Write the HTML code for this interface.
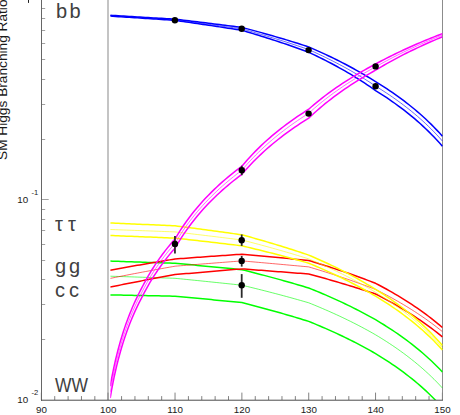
<!DOCTYPE html>
<html><head><meta charset="utf-8"><title>SM Higgs Branching Ratio</title>
<style>
html,body{margin:0;padding:0;background:#fff;}
body{width:460px;height:415px;overflow:hidden;position:relative;font-family:"Liberation Sans",sans-serif;}
svg{position:absolute;left:0;top:0;display:block;}
text{font-family:"Liberation Sans",sans-serif;stroke:none;}
</style></head><body>
<svg width="460" height="415" viewBox="0 0 460 415">
<rect width="460" height="415" fill="#fff"/>
<defs><clipPath id="cp"><rect x="110.3" y="0" width="332.6" height="400"/></clipPath></defs>
<!-- gray vertical lines -->
<rect x="107" y="0" width="2" height="400" fill="#c4c4c4"/>
<rect x="442" y="0" width="1" height="400" fill="#8c8c8c"/>
<g clip-path="url(#cp)" stroke-linejoin="round">
<path d="M110.21 276.20 L112.91 276.29 L115.61 276.37 L118.31 276.46 L121.01 276.55 L123.71 276.63 L126.41 276.72 L129.12 276.81 L131.82 276.89 L134.52 276.98 L137.22 277.07 L139.92 277.16 L142.62 277.24 L145.32 277.33 L148.03 277.42 L150.73 277.51 L153.43 277.59 L156.13 277.68 L158.83 277.77 L161.53 277.86 L164.23 277.95 L166.94 278.03 L169.64 278.12 L172.34 278.21 L175.04 278.30 L177.83 278.58 L180.61 278.85 L183.40 279.13 L186.18 279.41 L188.96 279.69 L191.75 279.97 L194.54 280.26 L197.32 280.54 L200.11 280.82 L202.89 281.11 L205.67 281.39 L208.46 281.68 L211.25 281.97 L214.03 282.26 L216.81 282.55 L219.60 282.84 L222.38 283.13 L225.17 283.42 L227.96 283.72 L230.74 284.01 L233.53 284.31 L236.31 284.60 L239.09 284.90 L241.88 285.20 L244.67 285.87 L247.45 286.54 L250.24 287.22 L253.02 287.90 L255.80 288.58 L258.59 289.28 L261.38 289.98 L264.16 290.68 L266.94 291.39 L269.73 292.11 L272.51 292.83 L275.30 293.56 L278.09 294.29 L280.87 295.03 L283.66 295.78 L286.44 296.53 L289.22 297.29 L292.01 298.06 L294.80 298.83 L297.58 299.61 L300.37 300.40 L303.15 301.19 L305.94 301.99 L308.72 302.80 L311.50 303.92 L314.29 305.06 L317.07 306.21 L319.86 307.38 L322.65 308.57 L325.43 309.77 L328.21 310.98 L331.00 312.22 L333.79 313.47 L336.57 314.74 L339.36 316.03 L342.14 317.34 L344.92 318.67 L347.71 320.02 L350.50 321.39 L353.28 322.78 L356.07 324.19 L358.85 325.63 L361.63 327.09 L364.42 328.58 L367.20 330.10 L369.99 331.64 L372.78 333.20 L375.56 334.80 L378.34 336.47 L381.13 338.18 L383.92 339.92 L386.70 341.70 L389.49 343.52 L392.27 345.37 L395.05 347.26 L397.84 349.20 L400.62 351.18 L403.41 353.20 L406.20 355.27 L408.98 357.40 L411.76 359.58 L414.55 361.81 L417.33 364.10 L420.12 366.45 L422.91 368.87 L425.69 371.36 L428.47 373.92 L431.26 376.56 L434.05 379.28 L436.83 382.09 L439.62 385.00 L442.40 388.00" stroke="#00ff00" stroke-width="0.6" fill="none"/>
<path d="M110.21 261.10 L112.91 261.19 L115.61 261.28 L118.31 261.37 L121.01 261.46 L123.71 261.55 L126.41 261.64 L129.12 261.74 L131.82 261.83 L134.52 261.92 L137.22 262.01 L139.92 262.10 L142.62 262.19 L145.32 262.28 L148.03 262.38 L150.73 262.47 L153.43 262.56 L156.13 262.65 L158.83 262.74 L161.53 262.84 L164.23 262.93 L166.94 263.02 L169.64 263.11 L172.34 263.21 L175.04 263.30 L177.83 263.56 L180.61 263.82 L183.40 264.07 L186.18 264.33 L188.96 264.60 L191.75 264.86 L194.54 265.12 L197.32 265.38 L200.11 265.65 L202.89 265.91 L205.67 266.18 L208.46 266.44 L211.25 266.71 L214.03 266.98 L216.81 267.24 L219.60 267.51 L222.38 267.78 L225.17 268.06 L227.96 268.33 L230.74 268.60 L233.53 268.87 L236.31 269.15 L239.09 269.42 L241.88 269.70 L244.67 270.39 L247.45 271.09 L250.24 271.79 L253.02 272.50 L255.80 273.21 L258.59 273.93 L261.38 274.65 L264.16 275.38 L266.94 276.12 L269.73 276.86 L272.51 277.61 L275.30 278.37 L278.09 279.13 L280.87 279.90 L283.66 280.68 L286.44 281.46 L289.22 282.25 L292.01 283.05 L294.80 283.86 L297.58 284.67 L300.37 285.49 L303.15 286.32 L305.94 287.16 L308.72 288.00 L311.50 289.11 L314.29 290.24 L317.07 291.39 L319.86 292.55 L322.65 293.72 L325.43 294.91 L328.21 296.12 L331.00 297.34 L333.79 298.58 L336.57 299.84 L339.36 301.12 L342.14 302.42 L344.92 303.73 L347.71 305.07 L350.50 306.43 L353.28 307.80 L356.07 309.21 L358.85 310.63 L361.63 312.08 L364.42 313.55 L367.20 315.05 L369.99 316.57 L372.78 318.12 L375.56 319.70 L378.34 321.35 L381.13 323.04 L383.92 324.76 L386.70 326.51 L389.49 328.30 L392.27 330.13 L395.05 332.00 L397.84 333.90 L400.62 335.85 L403.41 337.85 L406.20 339.89 L408.98 341.98 L411.76 344.12 L414.55 346.32 L417.33 348.57 L420.12 350.88 L422.91 353.26 L425.69 355.70 L428.47 358.22 L431.26 360.80 L434.05 363.47 L436.83 366.22 L439.62 369.06 L442.40 372.00" stroke="#00ff00" stroke-width="1.5" fill="none"/>
<path d="M110.21 294.90 L112.91 294.95 L115.61 295.01 L118.31 295.06 L121.01 295.12 L123.71 295.17 L126.41 295.22 L129.12 295.28 L131.82 295.33 L134.52 295.39 L137.22 295.44 L139.92 295.49 L142.62 295.55 L145.32 295.60 L148.03 295.66 L150.73 295.71 L153.43 295.76 L156.13 295.82 L158.83 295.87 L161.53 295.93 L164.23 295.98 L166.94 296.04 L169.64 296.09 L172.34 296.15 L175.04 296.20 L177.83 296.46 L180.61 296.72 L183.40 296.97 L186.18 297.23 L188.96 297.50 L191.75 297.76 L194.54 298.02 L197.32 298.28 L200.11 298.55 L202.89 298.81 L205.67 299.08 L208.46 299.34 L211.25 299.61 L214.03 299.88 L216.81 300.14 L219.60 300.41 L222.38 300.68 L225.17 300.96 L227.96 301.23 L230.74 301.50 L233.53 301.77 L236.31 302.05 L239.09 302.32 L241.88 302.60 L244.67 303.31 L247.45 304.02 L250.24 304.74 L253.02 305.46 L255.80 306.20 L258.59 306.93 L261.38 307.68 L264.16 308.43 L266.94 309.18 L269.73 309.95 L272.51 310.72 L275.30 311.49 L278.09 312.28 L280.87 313.07 L283.66 313.87 L286.44 314.67 L289.22 315.49 L292.01 316.31 L294.80 317.13 L297.58 317.97 L300.37 318.82 L303.15 319.67 L305.94 320.53 L308.72 321.40 L311.50 322.53 L314.29 323.67 L317.07 324.83 L319.86 326.01 L322.65 327.20 L325.43 328.40 L328.21 329.63 L331.00 330.87 L333.79 332.13 L336.57 333.41 L339.36 334.70 L342.14 336.02 L344.92 337.36 L347.71 338.71 L350.50 340.09 L353.28 341.49 L356.07 342.92 L358.85 344.37 L361.63 345.84 L364.42 347.34 L367.20 348.86 L369.99 350.41 L372.78 351.99 L375.56 353.60 L378.34 355.29 L381.13 357.02 L383.92 358.78 L386.70 360.58 L389.49 362.42 L392.27 364.29 L395.05 366.21 L397.84 368.17 L400.62 370.17 L403.41 372.22 L406.20 374.33 L408.98 376.48 L411.76 378.69 L414.55 380.95 L417.33 383.28 L420.12 385.67 L422.91 388.13 L425.69 390.66 L428.47 393.26 L431.26 395.95 L434.05 398.72 L436.83 401.58 L439.62 404.54 L442.40 407.60" stroke="#00ff00" stroke-width="1.5" fill="none"/>
<path d="M110.21 278.40 L112.91 277.86 L115.61 277.32 L118.31 276.78 L121.01 276.24 L123.71 275.71 L126.41 275.19 L129.12 274.66 L131.82 274.14 L134.52 273.62 L137.22 273.11 L139.92 272.60 L142.62 272.09 L145.32 271.58 L148.03 271.08 L150.73 270.58 L153.43 270.08 L156.13 269.59 L158.83 269.09 L161.53 268.60 L164.23 268.12 L166.94 267.63 L169.64 267.15 L172.34 266.68 L175.04 266.20 L177.83 265.97 L180.61 265.75 L183.40 265.52 L186.18 265.29 L188.96 265.07 L191.75 264.84 L194.54 264.62 L197.32 264.40 L200.11 264.17 L202.89 263.95 L205.67 263.73 L208.46 263.51 L211.25 263.29 L214.03 263.07 L216.81 262.85 L219.60 262.63 L222.38 262.41 L225.17 262.20 L227.96 261.98 L230.74 261.76 L233.53 261.55 L236.31 261.33 L239.09 261.11 L241.88 260.90 L244.67 261.14 L247.45 261.38 L250.24 261.63 L253.02 261.87 L255.80 262.12 L258.59 262.36 L261.38 262.61 L264.16 262.85 L266.94 263.10 L269.73 263.35 L272.51 263.60 L275.30 263.85 L278.09 264.10 L280.87 264.35 L283.66 264.60 L286.44 264.85 L289.22 265.11 L292.01 265.36 L294.80 265.62 L297.58 265.87 L300.37 266.13 L303.15 266.38 L305.94 266.64 L308.72 266.90 L311.50 267.73 L314.29 268.57 L317.07 269.41 L319.86 270.27 L322.65 271.13 L325.43 272.00 L328.21 272.88 L331.00 273.77 L333.79 274.67 L336.57 275.58 L339.36 276.50 L342.14 277.43 L344.92 278.36 L347.71 279.31 L350.50 280.27 L353.28 281.24 L356.07 282.22 L358.85 283.21 L361.63 284.21 L364.42 285.22 L367.20 286.25 L369.99 287.29 L372.78 288.34 L375.56 289.40 L378.34 290.80 L381.13 292.23 L383.92 293.68 L386.70 295.16 L389.49 296.66 L392.27 298.19 L395.05 299.75 L397.84 301.33 L400.62 302.94 L403.41 304.59 L406.20 306.26 L408.98 307.97 L411.76 309.71 L414.55 311.49 L417.33 313.30 L420.12 315.16 L422.91 317.05 L425.69 318.98 L428.47 320.96 L431.26 322.99 L434.05 325.06 L436.83 327.19 L439.62 329.37 L442.40 331.60" stroke="#ff0000" stroke-width="0.6" fill="none"/>
<path d="M110.21 270.20 L112.91 269.70 L115.61 269.21 L118.31 268.72 L121.01 268.23 L123.71 267.74 L126.41 267.26 L129.12 266.78 L131.82 266.30 L134.52 265.83 L137.22 265.36 L139.92 264.89 L142.62 264.42 L145.32 263.96 L148.03 263.49 L150.73 263.03 L153.43 262.58 L156.13 262.12 L158.83 261.67 L161.53 261.22 L164.23 260.77 L166.94 260.32 L169.64 259.88 L172.34 259.44 L175.04 259.00 L177.83 258.79 L180.61 258.59 L183.40 258.39 L186.18 258.18 L188.96 257.98 L191.75 257.77 L194.54 257.57 L197.32 257.37 L200.11 257.17 L202.89 256.97 L205.67 256.77 L208.46 256.57 L211.25 256.37 L214.03 256.17 L216.81 255.97 L219.60 255.77 L222.38 255.57 L225.17 255.38 L227.96 255.18 L230.74 254.98 L233.53 254.79 L236.31 254.59 L239.09 254.39 L241.88 254.20 L244.67 254.45 L247.45 254.71 L250.24 254.96 L253.02 255.22 L255.80 255.48 L258.59 255.73 L261.38 255.99 L264.16 256.25 L266.94 256.51 L269.73 256.77 L272.51 257.03 L275.30 257.29 L278.09 257.56 L280.87 257.82 L283.66 258.08 L286.44 258.35 L289.22 258.61 L292.01 258.88 L294.80 259.15 L297.58 259.42 L300.37 259.69 L303.15 259.96 L305.94 260.23 L308.72 260.50 L311.50 261.34 L314.29 262.19 L317.07 263.04 L319.86 263.91 L322.65 264.78 L325.43 265.67 L328.21 266.56 L331.00 267.46 L333.79 268.37 L336.57 269.29 L339.36 270.22 L342.14 271.16 L344.92 272.11 L347.71 273.07 L350.50 274.04 L353.28 275.02 L356.07 276.01 L358.85 277.02 L361.63 278.03 L364.42 279.06 L367.20 280.10 L369.99 281.15 L372.78 282.22 L375.56 283.30 L378.34 284.76 L381.13 286.24 L383.92 287.74 L386.70 289.28 L389.49 290.84 L392.27 292.43 L395.05 294.05 L397.84 295.70 L400.62 297.38 L403.41 299.09 L406.20 300.84 L408.98 302.63 L411.76 304.45 L414.55 306.31 L417.33 308.21 L420.12 310.15 L422.91 312.14 L425.69 314.18 L428.47 316.26 L431.26 318.40 L434.05 320.58 L436.83 322.83 L439.62 325.13 L442.40 327.50" stroke="#ff0000" stroke-width="1.5" fill="none"/>
<path d="M110.21 287.10 L112.91 286.54 L115.61 285.99 L118.31 285.44 L121.01 284.89 L123.71 284.34 L126.41 283.80 L129.12 283.27 L131.82 282.73 L134.52 282.20 L137.22 281.67 L139.92 281.15 L142.62 280.63 L145.32 280.11 L148.03 279.59 L150.73 279.08 L153.43 278.57 L156.13 278.06 L158.83 277.56 L161.53 277.06 L164.23 276.56 L166.94 276.07 L169.64 275.58 L172.34 275.09 L175.04 274.60 L177.83 274.35 L180.61 274.11 L183.40 273.87 L186.18 273.62 L188.96 273.38 L191.75 273.14 L194.54 272.90 L197.32 272.66 L200.11 272.42 L202.89 272.18 L205.67 271.94 L208.46 271.70 L211.25 271.47 L214.03 271.23 L216.81 270.99 L219.60 270.76 L222.38 270.52 L225.17 270.29 L227.96 270.06 L230.74 269.82 L233.53 269.59 L236.31 269.36 L239.09 269.13 L241.88 268.90 L244.67 269.11 L247.45 269.31 L250.24 269.52 L253.02 269.73 L255.80 269.94 L258.59 270.15 L261.38 270.36 L264.16 270.57 L266.94 270.78 L269.73 270.99 L272.51 271.20 L275.30 271.41 L278.09 271.63 L280.87 271.84 L283.66 272.05 L286.44 272.27 L289.22 272.48 L292.01 272.70 L294.80 272.91 L297.58 273.13 L300.37 273.35 L303.15 273.56 L305.94 273.78 L308.72 274.00 L311.50 274.75 L314.29 275.50 L317.07 276.26 L319.86 277.03 L322.65 277.80 L325.43 278.59 L328.21 279.37 L331.00 280.17 L333.79 280.97 L336.57 281.78 L339.36 282.60 L342.14 283.43 L344.92 284.26 L347.71 285.10 L350.50 285.95 L353.28 286.81 L356.07 287.68 L358.85 288.55 L361.63 289.44 L364.42 290.33 L367.20 291.23 L369.99 292.15 L372.78 293.07 L375.56 294.00 L378.34 295.42 L381.13 296.87 L383.92 298.34 L386.70 299.84 L389.49 301.36 L392.27 302.91 L395.05 304.49 L397.84 306.09 L400.62 307.73 L403.41 309.40 L406.20 311.10 L408.98 312.83 L411.76 314.60 L414.55 316.41 L417.33 318.26 L420.12 320.14 L422.91 322.07 L425.69 324.04 L428.47 326.05 L431.26 328.12 L434.05 330.23 L436.83 332.40 L439.62 334.62 L442.40 336.90" stroke="#ff0000" stroke-width="1.5" fill="none"/>
<path d="M110.21 229.50 L112.91 229.60 L115.61 229.70 L118.31 229.80 L121.01 229.90 L123.71 229.99 L126.41 230.09 L129.12 230.19 L131.82 230.29 L134.52 230.39 L137.22 230.49 L139.92 230.59 L142.62 230.69 L145.32 230.79 L148.03 230.89 L150.73 230.99 L153.43 231.09 L156.13 231.19 L158.83 231.29 L161.53 231.39 L164.23 231.50 L166.94 231.60 L169.64 231.70 L172.34 231.80 L175.04 231.90 L177.83 232.22 L180.61 232.55 L183.40 232.87 L186.18 233.20 L188.96 233.53 L191.75 233.86 L194.54 234.19 L197.32 234.52 L200.11 234.85 L202.89 235.18 L205.67 235.52 L208.46 235.86 L211.25 236.19 L214.03 236.53 L216.81 236.87 L219.60 237.22 L222.38 237.56 L225.17 237.90 L227.96 238.25 L230.74 238.60 L233.53 238.95 L236.31 239.30 L239.09 239.65 L241.88 240.00 L244.67 240.71 L247.45 241.43 L250.24 242.15 L253.02 242.88 L255.80 243.61 L258.59 244.35 L261.38 245.10 L264.16 245.86 L266.94 246.62 L269.73 247.38 L272.51 248.16 L275.30 248.94 L278.09 249.73 L280.87 250.52 L283.66 251.32 L286.44 252.13 L289.22 252.95 L292.01 253.78 L294.80 254.61 L297.58 255.45 L300.37 256.30 L303.15 257.16 L305.94 258.02 L308.72 258.90 L311.50 260.06 L314.29 261.24 L317.07 262.44 L319.86 263.65 L322.65 264.88 L325.43 266.13 L328.21 267.39 L331.00 268.68 L333.79 269.98 L336.57 271.30 L339.36 272.64 L342.14 274.01 L344.92 275.39 L347.71 276.80 L350.50 278.23 L353.28 279.69 L356.07 281.17 L358.85 282.67 L361.63 284.21 L364.42 285.77 L367.20 287.35 L369.99 288.97 L372.78 290.62 L375.56 292.30 L378.34 294.02 L381.13 295.78 L383.92 297.58 L386.70 299.41 L389.49 301.29 L392.27 303.20 L395.05 305.16 L397.84 307.16 L400.62 309.21 L403.41 311.31 L406.20 313.46 L408.98 315.67 L411.76 317.93 L414.55 320.25 L417.33 322.64 L420.12 325.09 L422.91 327.62 L425.69 330.22 L428.47 332.90 L431.26 335.66 L434.05 338.52 L436.83 341.47 L439.62 344.53 L442.40 347.70" stroke="#ffff00" stroke-width="0.6" fill="none"/>
<path d="M110.21 223.00 L112.91 223.11 L115.61 223.23 L118.31 223.35 L121.01 223.46 L123.71 223.58 L126.41 223.69 L129.12 223.81 L131.82 223.92 L134.52 224.04 L137.22 224.16 L139.92 224.27 L142.62 224.39 L145.32 224.51 L148.03 224.62 L150.73 224.74 L153.43 224.86 L156.13 224.97 L158.83 225.09 L161.53 225.21 L164.23 225.33 L166.94 225.45 L169.64 225.56 L172.34 225.68 L175.04 225.80 L177.83 226.16 L180.61 226.52 L183.40 226.88 L186.18 227.24 L188.96 227.60 L191.75 227.96 L194.54 228.33 L197.32 228.70 L200.11 229.07 L202.89 229.44 L205.67 229.81 L208.46 230.18 L211.25 230.56 L214.03 230.94 L216.81 231.32 L219.60 231.70 L222.38 232.08 L225.17 232.46 L227.96 232.85 L230.74 233.23 L233.53 233.62 L236.31 234.01 L239.09 234.41 L241.88 234.80 L244.67 235.56 L247.45 236.32 L250.24 237.09 L253.02 237.87 L255.80 238.66 L258.59 239.45 L261.38 240.25 L264.16 241.06 L266.94 241.87 L269.73 242.69 L272.51 243.52 L275.30 244.36 L278.09 245.21 L280.87 246.06 L283.66 246.92 L286.44 247.79 L289.22 248.68 L292.01 249.56 L294.80 250.46 L297.58 251.37 L300.37 252.29 L303.15 253.22 L305.94 254.15 L308.72 255.10 L311.50 256.29 L314.29 257.50 L317.07 258.72 L319.86 259.96 L322.65 261.22 L325.43 262.49 L328.21 263.79 L331.00 265.10 L333.79 266.44 L336.57 267.79 L339.36 269.17 L342.14 270.57 L344.92 271.99 L347.71 273.44 L350.50 274.91 L353.28 276.41 L356.07 277.93 L358.85 279.48 L361.63 281.06 L364.42 282.66 L367.20 284.30 L369.99 285.97 L372.78 287.67 L375.56 289.40 L378.34 291.14 L381.13 292.92 L383.92 294.73 L386.70 296.58 L389.49 298.47 L392.27 300.41 L395.05 302.38 L397.84 304.41 L400.62 306.48 L403.41 308.60 L406.20 310.78 L408.98 313.01 L411.76 315.30 L414.55 317.65 L417.33 320.07 L420.12 322.55 L422.91 325.11 L425.69 327.75 L428.47 330.47 L431.26 333.27 L434.05 336.17 L436.83 339.17 L439.62 342.28 L442.40 345.50" stroke="#ffff00" stroke-width="1.5" fill="none"/>
<path d="M110.21 235.50 L112.91 235.61 L115.61 235.71 L118.31 235.82 L121.01 235.93 L123.71 236.04 L126.41 236.14 L129.12 236.25 L131.82 236.36 L134.52 236.47 L137.22 236.57 L139.92 236.68 L142.62 236.79 L145.32 236.90 L148.03 237.01 L150.73 237.12 L153.43 237.22 L156.13 237.33 L158.83 237.44 L161.53 237.55 L164.23 237.66 L166.94 237.77 L169.64 237.88 L172.34 237.99 L175.04 238.10 L177.83 238.41 L180.61 238.72 L183.40 239.03 L186.18 239.34 L188.96 239.65 L191.75 239.96 L194.54 240.28 L197.32 240.59 L200.11 240.91 L202.89 241.23 L205.67 241.54 L208.46 241.86 L211.25 242.19 L214.03 242.51 L216.81 242.83 L219.60 243.16 L222.38 243.48 L225.17 243.81 L227.96 244.14 L230.74 244.47 L233.53 244.80 L236.31 245.13 L239.09 245.47 L241.88 245.80 L244.67 246.46 L247.45 247.12 L250.24 247.79 L253.02 248.47 L255.80 249.15 L258.59 249.84 L261.38 250.53 L264.16 251.22 L266.94 251.92 L269.73 252.63 L272.51 253.35 L275.30 254.07 L278.09 254.79 L280.87 255.52 L283.66 256.26 L286.44 257.01 L289.22 257.76 L292.01 258.51 L294.80 259.28 L297.58 260.05 L300.37 260.83 L303.15 261.61 L305.94 262.40 L308.72 263.20 L311.50 264.35 L314.29 265.52 L317.07 266.70 L319.86 267.90 L322.65 269.12 L325.43 270.35 L328.21 271.60 L331.00 272.87 L333.79 274.16 L336.57 275.47 L339.36 276.80 L342.14 278.15 L344.92 279.52 L347.71 280.91 L350.50 282.32 L353.28 283.76 L356.07 285.22 L358.85 286.71 L361.63 288.22 L364.42 289.76 L367.20 291.32 L369.99 292.92 L372.78 294.54 L375.56 296.20 L378.34 297.89 L381.13 299.61 L383.92 301.36 L386.70 303.15 L389.49 304.98 L392.27 306.84 L395.05 308.75 L397.84 310.70 L400.62 312.70 L403.41 314.74 L406.20 316.83 L408.98 318.97 L411.76 321.17 L414.55 323.42 L417.33 325.74 L420.12 328.11 L422.91 330.56 L425.69 333.07 L428.47 335.66 L431.26 338.33 L434.05 341.08 L436.83 343.92 L439.62 346.86 L442.40 349.90" stroke="#ffff00" stroke-width="1.5" fill="none"/>
<path d="M110.21 15.70 L112.91 15.87 L115.61 16.03 L118.31 16.20 L121.01 16.37 L123.71 16.54 L126.41 16.71 L129.12 16.88 L131.82 17.05 L134.52 17.21 L137.22 17.38 L139.92 17.56 L142.62 17.73 L145.32 17.90 L148.03 18.07 L150.73 18.24 L153.43 18.41 L156.13 18.58 L158.83 18.76 L161.53 18.93 L164.23 19.10 L166.94 19.28 L169.64 19.45 L172.34 19.63 L175.04 19.80 L177.83 20.16 L180.61 20.52 L183.40 20.89 L186.18 21.25 L188.96 21.62 L191.75 21.99 L194.54 22.36 L197.32 22.73 L200.11 23.10 L202.89 23.48 L205.67 23.85 L208.46 24.23 L211.25 24.61 L214.03 24.99 L216.81 25.38 L219.60 25.76 L222.38 26.15 L225.17 26.53 L227.96 26.92 L230.74 27.32 L233.53 27.71 L236.31 28.10 L239.09 28.50 L241.88 28.90 L244.67 29.67 L247.45 30.45 L250.24 31.23 L253.02 32.03 L255.80 32.83 L258.59 33.63 L261.38 34.45 L264.16 35.27 L266.94 36.10 L269.73 36.94 L272.51 37.78 L275.30 38.64 L278.09 39.50 L280.87 40.37 L283.66 41.25 L286.44 42.14 L289.22 43.04 L292.01 43.95 L294.80 44.86 L297.58 45.79 L300.37 46.73 L303.15 47.67 L305.94 48.63 L308.72 49.60 L311.50 50.85 L314.29 52.12 L317.07 53.41 L319.86 54.72 L322.65 56.04 L325.43 57.39 L328.21 58.76 L331.00 60.15 L333.79 61.57 L336.57 63.00 L339.36 64.47 L342.14 65.95 L344.92 67.46 L347.71 69.00 L350.50 70.57 L353.28 72.16 L356.07 73.79 L358.85 75.44 L361.63 77.13 L364.42 78.85 L367.20 80.61 L369.99 82.40 L372.78 84.23 L375.56 86.10 L378.34 87.81 L381.13 89.56 L383.92 91.35 L386.70 93.17 L389.49 95.03 L392.27 96.93 L395.05 98.87 L397.84 100.86 L400.62 102.89 L403.41 104.97 L406.20 107.11 L408.98 109.29 L411.76 111.54 L414.55 113.84 L417.33 116.20 L420.12 118.64 L422.91 121.14 L425.69 123.71 L428.47 126.36 L431.26 129.10 L434.05 131.93 L436.83 134.85 L439.62 137.87 L442.40 141.00" stroke="#0000ff" stroke-width="0.6" fill="none"/>
<path d="M110.21 15.30 L112.91 15.46 L115.61 15.62 L118.31 15.78 L121.01 15.94 L123.71 16.10 L126.41 16.26 L129.12 16.42 L131.82 16.58 L134.52 16.74 L137.22 16.90 L139.92 17.07 L142.62 17.23 L145.32 17.39 L148.03 17.55 L150.73 17.72 L153.43 17.88 L156.13 18.04 L158.83 18.21 L161.53 18.37 L164.23 18.54 L166.94 18.70 L169.64 18.87 L172.34 19.03 L175.04 19.20 L177.83 19.53 L180.61 19.85 L183.40 20.18 L186.18 20.51 L188.96 20.85 L191.75 21.18 L194.54 21.51 L197.32 21.85 L200.11 22.19 L202.89 22.52 L205.67 22.86 L208.46 23.20 L211.25 23.55 L214.03 23.89 L216.81 24.23 L219.60 24.58 L222.38 24.93 L225.17 25.28 L227.96 25.63 L230.74 25.98 L233.53 26.33 L236.31 26.69 L239.09 27.04 L241.88 27.40 L244.67 28.13 L247.45 28.87 L250.24 29.61 L253.02 30.36 L255.80 31.12 L258.59 31.88 L261.38 32.65 L264.16 33.43 L266.94 34.21 L269.73 35.00 L272.51 35.80 L275.30 36.61 L278.09 37.42 L280.87 38.24 L283.66 39.07 L286.44 39.90 L289.22 40.75 L292.01 41.60 L294.80 42.46 L297.58 43.33 L300.37 44.21 L303.15 45.10 L305.94 45.99 L308.72 46.90 L311.50 48.10 L314.29 49.32 L317.07 50.56 L319.86 51.82 L322.65 53.09 L325.43 54.38 L328.21 55.70 L331.00 57.03 L333.79 58.38 L336.57 59.76 L339.36 61.15 L342.14 62.57 L344.92 64.02 L347.71 65.48 L350.50 66.98 L353.28 68.49 L356.07 70.04 L358.85 71.61 L361.63 73.21 L364.42 74.85 L367.20 76.51 L369.99 78.21 L372.78 79.94 L375.56 81.70 L378.34 83.40 L381.13 85.14 L383.92 86.92 L386.70 88.73 L389.49 90.58 L392.27 92.47 L395.05 94.40 L397.84 96.37 L400.62 98.39 L403.41 100.46 L406.20 102.58 L408.98 104.75 L411.76 106.98 L414.55 109.27 L417.33 111.62 L420.12 114.03 L422.91 116.51 L425.69 119.07 L428.47 121.70 L431.26 124.41 L434.05 127.21 L436.83 130.11 L439.62 133.10 L442.40 136.20" stroke="#0000ff" stroke-width="1.5" fill="none"/>
<path d="M110.21 16.10 L112.91 16.27 L115.61 16.45 L118.31 16.63 L121.01 16.80 L123.71 16.98 L126.41 17.16 L129.12 17.33 L131.82 17.51 L134.52 17.69 L137.22 17.87 L139.92 18.04 L142.62 18.22 L145.32 18.40 L148.03 18.58 L150.73 18.76 L153.43 18.94 L156.13 19.12 L158.83 19.30 L161.53 19.49 L164.23 19.67 L166.94 19.85 L169.64 20.03 L172.34 20.22 L175.04 20.40 L177.83 20.79 L180.61 21.18 L183.40 21.58 L186.18 21.97 L188.96 22.37 L191.75 22.77 L194.54 23.17 L197.32 23.58 L200.11 23.98 L202.89 24.39 L205.67 24.80 L208.46 25.21 L211.25 25.62 L214.03 26.04 L216.81 26.45 L219.60 26.87 L222.38 27.29 L225.17 27.72 L227.96 28.14 L230.74 28.57 L233.53 29.00 L236.31 29.43 L239.09 29.86 L241.88 30.30 L244.67 31.11 L247.45 31.94 L250.24 32.76 L253.02 33.60 L255.80 34.45 L258.59 35.30 L261.38 36.16 L264.16 37.03 L266.94 37.91 L269.73 38.80 L272.51 39.70 L275.30 40.61 L278.09 41.52 L280.87 42.45 L283.66 43.39 L286.44 44.33 L289.22 45.29 L292.01 46.26 L294.80 47.24 L297.58 48.23 L300.37 49.23 L303.15 50.24 L305.94 51.26 L308.72 52.30 L311.50 53.60 L314.29 54.92 L317.07 56.26 L319.86 57.62 L322.65 59.01 L325.43 60.41 L328.21 61.84 L331.00 63.29 L333.79 64.77 L336.57 66.28 L339.36 67.80 L342.14 69.36 L344.92 70.95 L347.71 72.56 L350.50 74.21 L353.28 75.88 L356.07 77.59 L358.85 79.33 L361.63 81.11 L364.42 82.93 L367.20 84.79 L369.99 86.68 L372.78 88.62 L375.56 90.60 L378.34 92.33 L381.13 94.10 L383.92 95.90 L386.70 97.74 L389.49 99.62 L392.27 101.55 L395.05 103.51 L397.84 105.52 L400.62 107.58 L403.41 109.69 L406.20 111.85 L408.98 114.07 L411.76 116.34 L414.55 118.68 L417.33 121.08 L420.12 123.55 L422.91 126.09 L425.69 128.70 L428.47 131.40 L431.26 134.18 L434.05 137.06 L436.83 140.03 L439.62 143.11 L442.40 146.30" stroke="#0000ff" stroke-width="1.5" fill="none"/>
<path d="M110.21 392.00 L111.51 384.61 L112.82 377.81 L114.13 371.49 L115.44 365.61 L116.75 360.09 L118.06 354.91 L119.37 350.01 L120.68 345.38 L121.99 340.98 L123.29 336.79 L124.60 332.80 L125.91 328.98 L127.22 325.32 L128.53 321.81 L129.84 318.43 L131.15 315.18 L132.46 312.05 L133.77 309.02 L135.08 306.10 L136.38 303.27 L137.69 300.53 L139.00 297.88 L140.31 295.30 L141.62 292.80 L143.01 290.07 L144.41 287.41 L145.80 284.84 L147.19 282.34 L148.58 279.91 L149.97 277.55 L151.37 275.25 L152.76 273.01 L154.15 270.82 L155.54 268.69 L156.94 266.61 L158.33 264.58 L159.72 262.59 L161.12 260.65 L162.51 258.75 L163.90 256.89 L165.29 255.07 L166.69 253.29 L168.08 251.54 L169.47 249.83 L170.86 248.15 L172.25 246.50 L173.65 244.89 L175.04 243.30 L177.83 238.66 L180.61 234.26 L183.40 230.07 L186.18 226.07 L188.96 222.25 L191.75 218.59 L194.54 215.08 L197.32 211.70 L200.11 208.45 L202.89 205.31 L205.67 202.29 L208.46 199.36 L211.25 196.54 L214.03 193.80 L216.81 191.14 L219.60 188.56 L222.38 186.06 L225.17 183.63 L227.96 181.26 L230.74 178.95 L233.53 176.71 L236.31 174.52 L239.09 172.38 L241.88 170.30 L244.67 167.01 L247.45 163.84 L250.24 160.78 L253.02 157.82 L255.80 154.96 L258.59 152.20 L261.38 149.51 L264.16 146.91 L266.94 144.39 L269.73 141.93 L272.51 139.54 L275.30 137.22 L278.09 134.95 L280.87 132.75 L283.66 130.59 L286.44 128.49 L289.22 126.44 L292.01 124.44 L294.80 122.48 L297.58 120.57 L300.37 118.69 L303.15 116.86 L305.94 115.06 L308.72 113.30 L311.50 110.78 L314.29 108.34 L317.07 105.96 L319.86 103.64 L322.65 101.39 L325.43 99.19 L328.21 97.04 L331.00 94.95 L333.79 92.90 L336.57 90.91 L339.36 88.95 L342.14 87.05 L344.92 85.18 L347.71 83.35 L350.50 81.56 L353.28 79.80 L356.07 78.08 L358.85 76.39 L361.63 74.74 L364.42 73.11 L367.20 71.52 L369.99 69.95 L372.78 68.41 L375.56 66.90 L378.34 65.32 L381.13 63.76 L383.92 62.23 L386.70 60.73 L389.49 59.25 L392.27 57.80 L395.05 56.37 L397.84 54.96 L400.62 53.58 L403.41 52.22 L406.20 50.88 L408.98 49.56 L411.76 48.26 L414.55 46.97 L417.33 45.71 L420.12 44.47 L422.91 43.24 L425.69 42.03 L428.47 40.83 L431.26 39.66 L434.05 38.50 L436.83 37.35 L439.62 36.22 L442.40 35.10" stroke="#ff00ff" stroke-width="0.6" fill="none"/>
<path d="M110.21 386.20 L111.51 378.96 L112.82 372.27 L114.13 366.06 L115.44 360.27 L116.75 354.83 L118.06 349.72 L119.37 344.89 L120.68 340.31 L121.99 335.96 L123.29 331.82 L124.60 327.87 L125.91 324.08 L127.22 320.46 L128.53 316.98 L129.84 313.64 L131.15 310.41 L132.46 307.31 L133.77 304.31 L135.08 301.41 L136.38 298.60 L137.69 295.88 L139.00 293.24 L140.31 290.69 L141.62 288.20 L143.01 285.48 L144.41 282.84 L145.80 280.28 L147.19 277.80 L148.58 275.38 L149.97 273.03 L151.37 270.73 L152.76 268.50 L154.15 266.33 L155.54 264.20 L156.94 262.13 L158.33 260.11 L159.72 258.13 L161.12 256.19 L162.51 254.30 L163.90 252.45 L165.29 250.64 L166.69 248.86 L168.08 247.12 L169.47 245.41 L170.86 243.74 L172.25 242.09 L173.65 240.48 L175.04 238.90 L177.83 234.29 L180.61 229.91 L183.40 225.75 L186.18 221.77 L188.96 217.96 L191.75 214.32 L194.54 210.82 L197.32 207.46 L200.11 204.22 L202.89 201.10 L205.67 198.09 L208.46 195.17 L211.25 192.35 L214.03 189.62 L216.81 186.98 L219.60 184.41 L222.38 181.91 L225.17 179.49 L227.96 177.13 L230.74 174.83 L233.53 172.59 L236.31 170.41 L239.09 168.28 L241.88 166.20 L244.67 162.91 L247.45 159.74 L250.24 156.68 L253.02 153.72 L255.80 150.86 L258.59 148.10 L261.38 145.41 L264.16 142.81 L266.94 140.29 L269.73 137.83 L272.51 135.44 L275.30 133.12 L278.09 130.85 L280.87 128.65 L283.66 126.49 L286.44 124.39 L289.22 122.34 L292.01 120.34 L294.80 118.38 L297.58 116.47 L300.37 114.59 L303.15 112.76 L305.94 110.96 L308.72 109.20 L311.50 106.77 L314.29 104.40 L317.07 102.09 L319.86 99.85 L322.65 97.66 L325.43 95.52 L328.21 93.43 L331.00 91.40 L333.79 89.41 L336.57 87.46 L339.36 85.56 L342.14 83.70 L344.92 81.88 L347.71 80.09 L350.50 78.34 L353.28 76.63 L356.07 74.94 L358.85 73.29 L361.63 71.67 L364.42 70.08 L367.20 68.52 L369.99 66.99 L372.78 65.48 L375.56 64.00 L378.34 62.50 L381.13 61.02 L383.92 59.57 L386.70 58.14 L389.49 56.73 L392.27 55.35 L395.05 53.99 L397.84 52.65 L400.62 51.33 L403.41 50.02 L406.20 48.74 L408.98 47.48 L411.76 46.24 L414.55 45.01 L417.33 43.80 L420.12 42.60 L422.91 41.43 L425.69 40.26 L428.47 39.12 L431.26 37.99 L434.05 36.87 L436.83 35.77 L439.62 34.68 L442.40 33.60" stroke="#ff00ff" stroke-width="1.5" fill="none"/>
<path d="M110.21 398.00 L111.51 390.49 L112.82 383.58 L114.13 377.18 L115.44 371.22 L116.75 365.64 L118.06 360.40 L119.37 355.45 L120.68 350.77 L121.99 346.33 L123.29 342.10 L124.60 338.07 L125.91 334.22 L127.22 330.53 L128.53 326.99 L129.84 323.59 L131.15 320.32 L132.46 317.16 L133.77 314.12 L135.08 311.18 L136.38 308.33 L137.69 305.58 L139.00 302.91 L140.31 300.32 L141.62 297.80 L143.01 295.05 L144.41 292.39 L145.80 289.80 L147.19 287.29 L148.58 284.85 L149.97 282.48 L151.37 280.17 L152.76 277.92 L154.15 275.72 L155.54 273.58 L156.94 271.49 L158.33 269.45 L159.72 267.46 L161.12 265.51 L162.51 263.60 L163.90 261.74 L165.29 259.91 L166.69 258.12 L168.08 256.37 L169.47 254.65 L170.86 252.97 L172.25 251.31 L173.65 249.69 L175.04 248.10 L177.83 243.39 L180.61 238.92 L183.40 234.67 L186.18 230.62 L188.96 226.75 L191.75 223.04 L194.54 219.49 L197.32 216.07 L200.11 212.78 L202.89 209.61 L205.67 206.56 L208.46 203.60 L211.25 200.75 L214.03 197.98 L216.81 195.30 L219.60 192.70 L222.38 190.18 L225.17 187.73 L227.96 185.34 L230.74 183.02 L233.53 180.75 L236.31 178.55 L239.09 176.40 L241.88 174.30 L244.67 171.07 L247.45 167.96 L250.24 164.95 L253.02 162.04 L255.80 159.23 L258.59 156.51 L261.38 153.87 L264.16 151.30 L266.94 148.81 L269.73 146.39 L272.51 144.04 L275.30 141.74 L278.09 139.51 L280.87 137.33 L283.66 135.20 L286.44 133.13 L289.22 131.10 L292.01 129.12 L294.80 127.18 L297.58 125.29 L300.37 123.44 L303.15 121.62 L305.94 119.84 L308.72 118.10 L311.50 115.48 L314.29 112.93 L317.07 110.46 L319.86 108.06 L322.65 105.72 L325.43 103.44 L328.21 101.22 L331.00 99.06 L333.79 96.94 L336.57 94.88 L339.36 92.87 L342.14 90.90 L344.92 88.97 L347.71 87.09 L350.50 85.24 L353.28 83.44 L356.07 81.67 L358.85 79.94 L361.63 78.24 L364.42 76.57 L367.20 74.93 L369.99 73.33 L372.78 71.75 L375.56 70.20 L378.34 68.52 L381.13 66.87 L383.92 65.25 L386.70 63.67 L389.49 62.11 L392.27 60.57 L395.05 59.07 L397.84 57.59 L400.62 56.13 L403.41 54.70 L406.20 53.29 L408.98 51.91 L411.76 50.54 L414.55 49.20 L417.33 47.88 L420.12 46.58 L422.91 45.29 L425.69 44.03 L428.47 42.78 L431.26 41.55 L434.05 40.34 L436.83 39.14 L439.62 37.96 L442.40 36.80" stroke="#ff00ff" stroke-width="1.5" fill="none"/>
</g>
<!-- axes -->
<g stroke="#a0a0a0" stroke-width="1">
<line x1="41.5" x2="48.7" y1="199.50" y2="199.50"/>
<line x1="41.5" x2="45.2" y1="139.50" y2="139.50"/>
<line x1="41.5" x2="45.2" y1="104.50" y2="104.50"/>
<line x1="41.5" x2="45.2" y1="79.50" y2="79.50"/>
<line x1="41.5" x2="45.2" y1="59.50" y2="59.50"/>
<line x1="41.5" x2="45.2" y1="43.50" y2="43.50"/>
<line x1="41.5" x2="45.2" y1="30.50" y2="30.50"/>
<line x1="41.5" x2="45.2" y1="18.50" y2="18.50"/>
<line x1="41.5" x2="45.2" y1="8.50" y2="8.50"/>
<line x1="41.5" x2="45.2" y1="339.50" y2="339.50"/>
<line x1="41.5" x2="45.2" y1="304.50" y2="304.50"/>
<line x1="41.5" x2="45.2" y1="279.50" y2="279.50"/>
<line x1="41.5" x2="45.2" y1="260.50" y2="260.50"/>
<line x1="41.5" x2="45.2" y1="244.50" y2="244.50"/>
<line x1="41.5" x2="45.2" y1="230.50" y2="230.50"/>
<line x1="41.5" x2="45.2" y1="219.50" y2="219.50"/>
<line x1="41.5" x2="45.2" y1="209.50" y2="209.50"/>
<line x1="41.36" x2="41.36" y1="400" y2="392.60" stroke="#828282"/>
<line x1="54.73" x2="54.73" y1="400" y2="396.10" stroke="#828282"/>
<line x1="68.10" x2="68.10" y1="400" y2="396.10" stroke="#828282"/>
<line x1="81.46" x2="81.46" y1="400" y2="396.10" stroke="#828282"/>
<line x1="94.83" x2="94.83" y1="400" y2="396.10" stroke="#828282"/>
<rect x="107" y="392.6" width="2" height="7.4" fill="#a2a2a2" stroke="none"/>
<line x1="121.57" x2="121.57" y1="400" y2="396.10" stroke="#828282"/>
<line x1="134.94" x2="134.94" y1="400" y2="396.10" stroke="#828282"/>
<line x1="148.30" x2="148.30" y1="400" y2="396.10" stroke="#828282"/>
<line x1="161.67" x2="161.67" y1="400" y2="396.10" stroke="#828282"/>
<line x1="175.04" x2="175.04" y1="400" y2="392.60" stroke="#828282"/>
<line x1="188.41" x2="188.41" y1="400" y2="396.10" stroke="#828282"/>
<line x1="201.78" x2="201.78" y1="400" y2="396.10" stroke="#828282"/>
<line x1="215.14" x2="215.14" y1="400" y2="396.10" stroke="#828282"/>
<line x1="228.51" x2="228.51" y1="400" y2="396.10" stroke="#828282"/>
<line x1="241.88" x2="241.88" y1="400" y2="392.60" stroke="#828282"/>
<line x1="255.25" x2="255.25" y1="400" y2="396.10" stroke="#828282"/>
<line x1="268.62" x2="268.62" y1="400" y2="396.10" stroke="#828282"/>
<line x1="281.98" x2="281.98" y1="400" y2="396.10" stroke="#828282"/>
<line x1="295.35" x2="295.35" y1="400" y2="396.10" stroke="#828282"/>
<line x1="308.72" x2="308.72" y1="400" y2="392.60" stroke="#828282"/>
<line x1="322.09" x2="322.09" y1="400" y2="396.10" stroke="#828282"/>
<line x1="335.46" x2="335.46" y1="400" y2="396.10" stroke="#828282"/>
<line x1="348.82" x2="348.82" y1="400" y2="396.10" stroke="#828282"/>
<line x1="362.19" x2="362.19" y1="400" y2="396.10" stroke="#828282"/>
<line x1="375.56" x2="375.56" y1="400" y2="392.60" stroke="#828282"/>
<line x1="388.93" x2="388.93" y1="400" y2="396.10" stroke="#828282"/>
<line x1="402.30" x2="402.30" y1="400" y2="396.10" stroke="#828282"/>
<line x1="415.66" x2="415.66" y1="400" y2="396.10" stroke="#828282"/>
<line x1="429.03" x2="429.03" y1="400" y2="396.10" stroke="#828282"/>
<line x1="442.40" x2="442.40" y1="400" y2="392.60" stroke="#828282"/>
</g>
<rect x="41" y="0" width="1" height="400.7" fill="#666"/>
<rect x="41" y="399.7" width="402" height="1" fill="#4c4c4c"/>
<g fill="#1a1a1a">
<text x="41.46" y="412.5" text-anchor="middle" font-size="9.8">90</text>
<text x="108.30" y="412.5" text-anchor="middle" font-size="9.8">100</text>
<text x="175.14" y="412.5" text-anchor="middle" font-size="9.8">110</text>
<text x="241.98" y="412.5" text-anchor="middle" font-size="9.8">120</text>
<text x="308.82" y="412.5" text-anchor="middle" font-size="9.8">130</text>
<text x="375.66" y="412.5" text-anchor="middle" font-size="9.8">140</text>
<text x="442.50" y="412.5" text-anchor="middle" font-size="9.8">150</text>
<text x="17.3" y="203.4" font-size="9.8">10</text>
<text x="31.5" y="194.6" font-size="7.6">-1</text>
<text x="17.3" y="403.4" font-size="9.8">10</text>
<text x="31.5" y="394.6" font-size="7.6">-2</text>
<text transform="translate(6.5,160) rotate(-90)" font-size="13.7">SM Higgs Branching Ratio</text>
</g>
<rect x="28" y="0" width="1" height="2.9" fill="#222"/>

<g fill="#404040">
<text x="56" y="18" font-size="20" letter-spacing="2.5">bb</text>
<text x="55" y="231" font-size="20" letter-spacing="5">ττ</text>
<text x="55" y="273.3" font-size="20" letter-spacing="3">gg</text>
<text x="55" y="296.5" font-size="20" letter-spacing="4">cc</text>
<text x="55" y="392" font-size="20" textLength="33" lengthAdjust="spacingAndGlyphs">WW</text>
</g>

<circle cx="174.90" cy="20.30" r="3.2" fill="#000"/>
<circle cx="241.70" cy="28.80" r="3.2" fill="#000"/>
<circle cx="308.60" cy="50.10" r="3.2" fill="#000"/>
<circle cx="375.60" cy="86.30" r="3.2" fill="#000"/>
<line x1="174.95" x2="174.95" y1="236.00" y2="253.60" stroke="#2a2a2a" stroke-width="1.8"/><circle cx="174.95" cy="243.90" r="3.2" fill="#000"/>
<line x1="241.80" x2="241.80" y1="165.70" y2="175.20" stroke="#2a2a2a" stroke-width="1.8"/><circle cx="241.80" cy="170.30" r="3.2" fill="#000"/>
<circle cx="308.60" cy="113.60" r="3.2" fill="#000"/>
<circle cx="375.60" cy="66.40" r="3.2" fill="#000"/>
<line x1="241.70" x2="241.70" y1="234.50" y2="245.90" stroke="#2a2a2a" stroke-width="1.8"/><circle cx="241.70" cy="240.20" r="3.2" fill="#000"/>
<line x1="241.70" x2="241.70" y1="255.90" y2="266.60" stroke="#2a2a2a" stroke-width="1.8"/><circle cx="241.70" cy="260.90" r="3.2" fill="#000"/>
<line x1="241.70" x2="241.70" y1="274.10" y2="297.80" stroke="#2a2a2a" stroke-width="1.8"/><circle cx="241.70" cy="285.30" r="3.2" fill="#000"/>
</svg>
</body></html>
